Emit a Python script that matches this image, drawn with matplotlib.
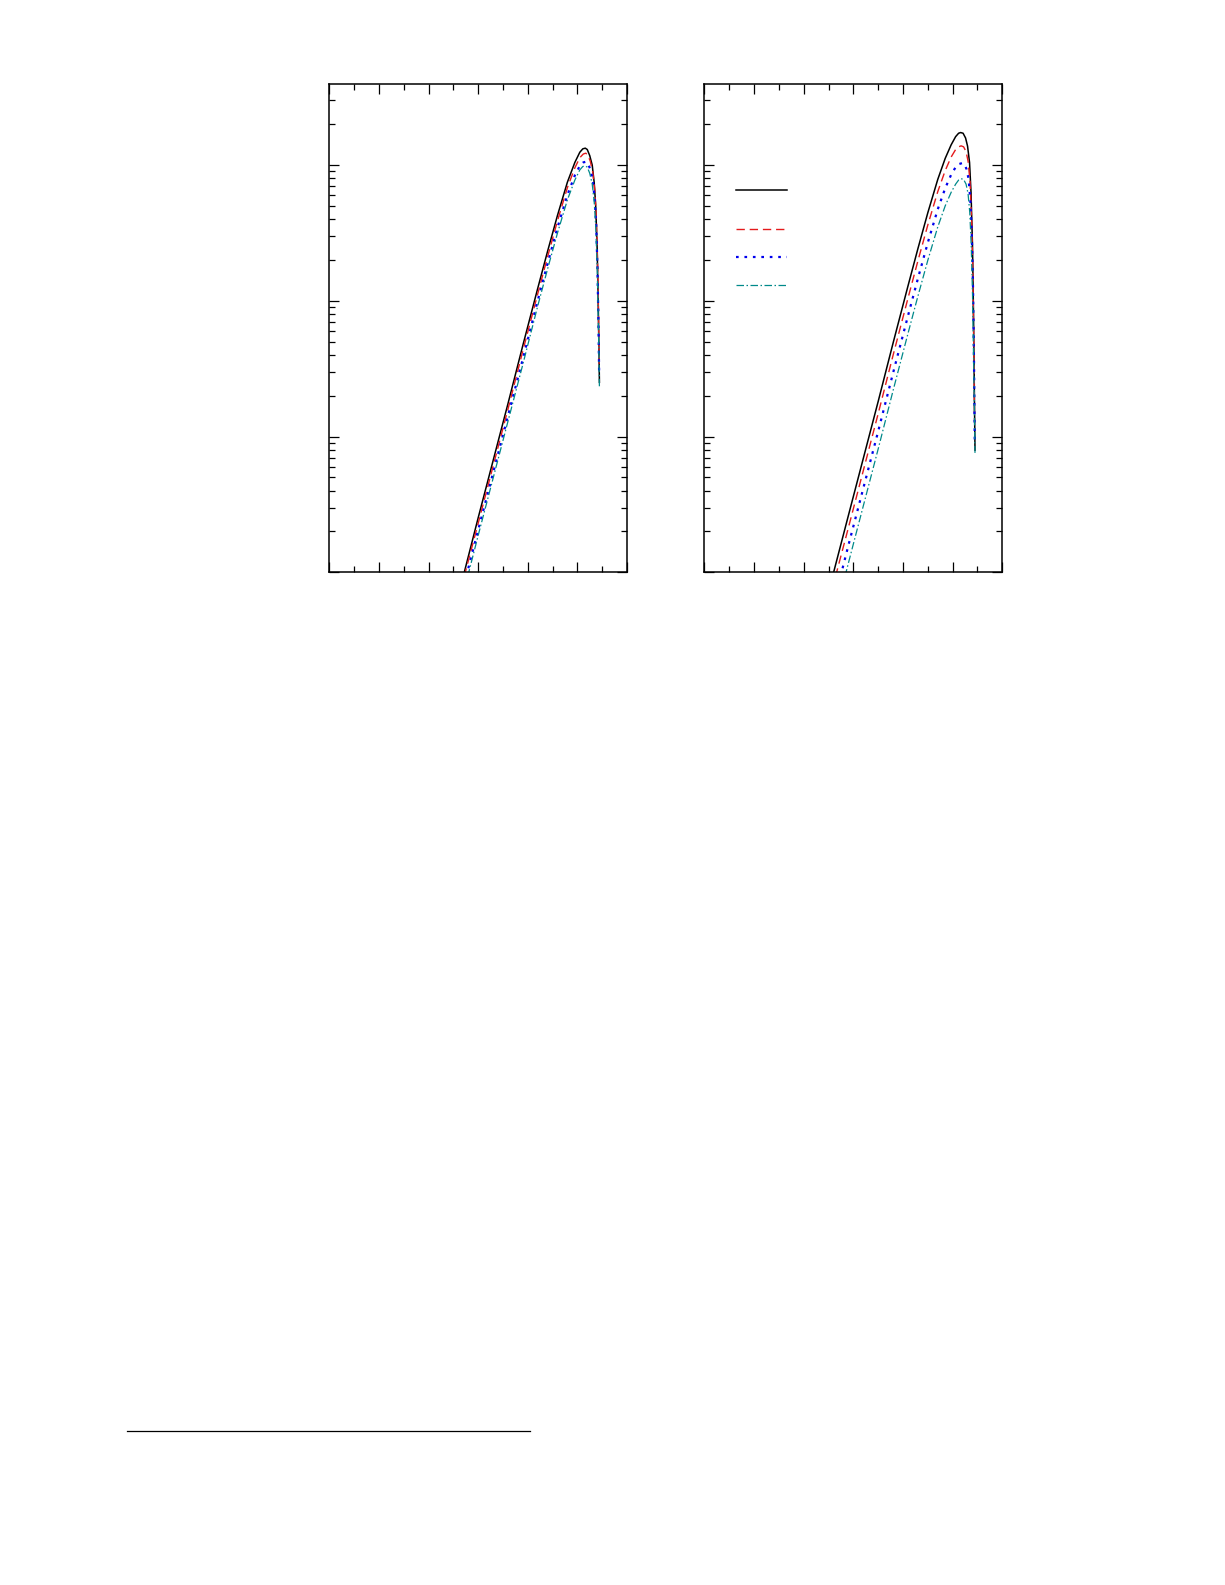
import numpy as np
import matplotlib
matplotlib.use("Agg")
import matplotlib.pyplot as plt
from matplotlib.lines import Line2D
from matplotlib.ticker import MultipleLocator, LogLocator, NullFormatter

# ---- data: x, log10(y) ----
# left panel
left_black_x = [2.70, 3.0, 3.3, 3.6, 3.9, 4.2, 4.4, 4.6, 4.8, 4.95, 5.05, 5.11, 5.16, 5.20, 5.25, 5.30, 5.34, 5.37, 5.40, 5.42, 5.435, 5.445]
left_black_ly = [-4.03, -3.60, -3.18, -2.76, -2.33, -1.91, -1.635, -1.37, -1.125, -0.98, -0.905, -0.88, -0.875, -0.885, -0.93, -1.00, -1.13, -1.30, -1.62, -2.0, -2.35, -2.6]

left_red_x = [2.72, 3.0, 3.3, 3.6, 3.9, 4.2, 4.4, 4.6, 4.8, 4.95, 5.05, 5.12, 5.17, 5.21, 5.26, 5.31, 5.35, 5.38, 5.405, 5.425, 5.44]
left_red_ly = [-4.03, -3.64, -3.22, -2.80, -2.37, -1.95, -1.675, -1.41, -1.165, -1.02, -0.945, -0.918, -0.912, -0.925, -0.97, -1.05, -1.18, -1.36, -1.68, -2.05, -2.5]

left_blue_x = [2.76, 3.0, 3.3, 3.6, 3.9, 4.2, 4.4, 4.6, 4.8, 4.95, 5.05, 5.12, 5.17, 5.21, 5.26, 5.31, 5.35, 5.38, 5.405, 5.425, 5.44]
left_blue_ly = [-4.03, -3.69, -3.27, -2.85, -2.43, -2.00, -1.725, -1.46, -1.22, -1.075, -1.005, -0.98, -0.975, -0.985, -1.03, -1.11, -1.25, -1.44, -1.75, -2.15, -2.55]

left_teal_x = [2.79, 3.0, 3.3, 3.6, 3.9, 4.2, 4.4, 4.6, 4.8, 4.95, 5.05, 5.11, 5.16, 5.20, 5.25, 5.30, 5.34, 5.37, 5.40, 5.42, 5.435, 5.445]
left_teal_ly = [-4.03, -3.73, -3.31, -2.89, -2.47, -2.04, -1.765, -1.50, -1.255, -1.11, -1.035, -1.01, -1.006, -1.015, -1.06, -1.14, -1.27, -1.45, -1.75, -2.1, -2.4, -2.64]

# right panel
right_black_x = [2.58, 2.9, 3.2, 3.5, 3.8, 4.1, 4.3, 4.5, 4.7, 4.85, 4.97, 5.06, 5.12, 5.16, 5.21, 5.26, 5.30, 5.34, 5.37, 5.40, 5.42, 5.435, 5.45]
right_black_ly = [-4.03, -3.58, -3.16, -2.74, -2.31, -1.89, -1.615, -1.35, -1.105, -0.95, -0.85, -0.79, -0.765, -0.76, -0.765, -0.80, -0.86, -0.98, -1.20, -1.60, -2.10, -2.6, -3.1]

right_red_x = [2.64, 2.9, 3.2, 3.5, 3.8, 4.1, 4.3, 4.5, 4.7, 4.85, 4.97, 5.06, 5.12, 5.17, 5.22, 5.27, 5.31, 5.35, 5.38, 5.405, 5.425, 5.44]
right_red_ly = [-4.03, -3.67, -3.25, -2.83, -2.40, -1.98, -1.705, -1.44, -1.195, -1.04, -0.94, -0.885, -0.865, -0.858, -0.865, -0.90, -0.97, -1.12, -1.38, -1.75, -2.3, -2.88]

right_blue_x = [2.74, 2.9, 3.2, 3.5, 3.8, 4.1, 4.3, 4.5, 4.7, 4.85, 4.97, 5.06, 5.13, 5.19, 5.24, 5.28, 5.32, 5.355, 5.385, 5.41, 5.43, 5.445]
right_blue_ly = [-4.03, -3.80, -3.38, -2.96, -2.53, -2.11, -1.835, -1.57, -1.325, -1.17, -1.07, -1.015, -0.992, -0.985, -0.995, -1.03, -1.10, -1.25, -1.50, -1.90, -2.45, -3.05]

right_teal_x = [2.83, 3.0, 3.2, 3.5, 3.8, 4.1, 4.3, 4.5, 4.7, 4.85, 4.97, 5.06, 5.12, 5.17, 5.22, 5.27, 5.31, 5.345, 5.375, 5.40, 5.425, 5.45]
right_teal_ly = [-4.03, -3.79, -3.51, -3.09, -2.66, -2.24, -1.965, -1.70, -1.455, -1.30, -1.20, -1.14, -1.11, -1.10, -1.105, -1.14, -1.21, -1.35, -1.60, -1.95, -2.5, -3.12]

colors = ["black", "#e41a1c", "#0000ee", "#00898a"]
styles = ["-", (0, (6, 3.5)), (0, (1.2, 2.6)), (0, (6, 2, 1.2, 2))]
widths = [1.1, 1.0, 1.6, 0.9]

left_series = [(left_black_x, left_black_ly), (left_red_x, left_red_ly),
               (left_blue_x, left_blue_ly), (left_teal_x, left_teal_ly)]
right_series = [(right_black_x, right_black_ly), (right_red_x, right_red_ly),
                (right_blue_x, right_blue_ly), (right_teal_x, right_teal_ly)]

fig = plt.figure(figsize=(12.25, 15.85), dpi=100)
ax1 = fig.add_axes([0.2688, 0.6389, 0.2430, 0.3083])
ax2 = fig.add_axes([0.5751, 0.6389, 0.2431, 0.3083])


def style_axes(ax):
    ax.set_yscale("log")
    ax.set_xlim(0, 6)
    ax.set_ylim(1e-4, 10 ** -0.4)
    ax.xaxis.set_major_locator(MultipleLocator(1))
    ax.xaxis.set_minor_locator(MultipleLocator(0.5))
    ax.yaxis.set_major_locator(LogLocator(base=10))
    ax.yaxis.set_minor_locator(LogLocator(base=10, subs=np.arange(2, 10)))
    ax.yaxis.set_minor_formatter(NullFormatter())
    ax.tick_params(which="both", direction="in", top=True, right=True,
                   labelleft=False, labelbottom=False, width=0.9)
    ax.tick_params(which="major", length=7.2)
    ax.tick_params(which="minor", length=4)
    for s in ax.spines.values():
        s.set_linewidth(1.1)


for ax, series in [(ax1, left_series), (ax2, right_series)]:
    for (x, ly), c, ls, lw in zip(series, colors, styles, widths):
        ax.plot(x, 10 ** np.array(ly), color=c, linestyle=ls, linewidth=lw)
    style_axes(ax)

# legend handles (labels are not shown in the picture)
leg_y = [0.782, 0.702, 0.646, 0.589]
for y, c, ls, lw in zip(leg_y, colors, styles, widths):
    ax2.plot([0.106, 0.276], [y, y], transform=ax2.transAxes,
             color=c, linestyle=ls, linewidth=lw)

# footnote rule
fig.add_artist(Line2D([0.1037, 0.4327], [0.0972, 0.0972], color="black", linewidth=0.9))

fig.savefig("out.png", dpi=100)
